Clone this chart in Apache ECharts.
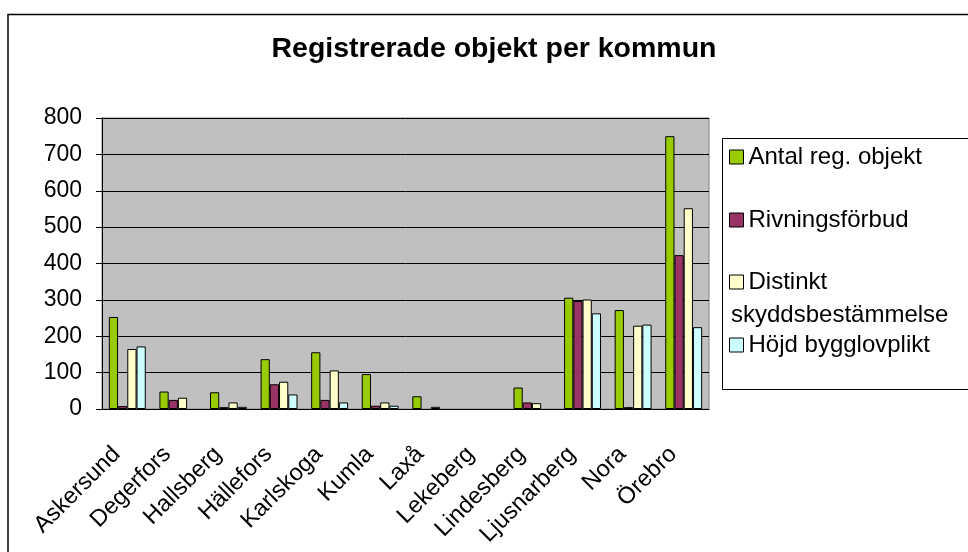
<!DOCTYPE html>
<html>
<head>
<meta charset="utf-8">
<script src="https://cdn.jsdelivr.net/npm/echarts@6/dist/echarts.min.js"></script>
<style>
html,body{margin:0;padding:0;background:#fff;}
#chart{width:968px;height:552px;}
</style>
</head>
<body>
<div id="chart"></div>
<script>
var categories = ['Askersund','Degerfors','Hallsberg','Hällefors','Karlskoga','Kumla','Laxå','Lekeberg','Lindesberg','Ljusnarberg','Nora','Örebro'];
var antal    = [253, 48, 46, 137, 156, 96, 35, 0, 59, 306, 272, 750];
var rivning  = [8, 25, 5, 68, 25, 9, 0, 0, 18, 297, 5, 423];
var distinkt = [165, 31, 18, 75, 106, 18, 6, 0, 16, 301, 229, 552];
var hojd     = [172, 0, 6, 40, 18, 9, 0, 0, 0, 263, 232, 225];
var seriesNames = ['Antal reg. objekt','Rivningsförbud','Distinkt','Höjd bygglovplikt'];
var yTicks = {min: 0, max: 800, interval: 100};

var FONT = '"Liberation Sans", Arial, sans-serif';
var colors = ['#99CC00','#993366','#FFFFCC','#CCFFFF'];
var legendTops = [145, 208, 270, 333];

var chart = echarts.init(document.getElementById('chart'), null, {renderer:'canvas'});

var legends = seriesNames.map(function(n, i){
  return {
    data: [n],
    orient: 'vertical',
    left: 729,
    top: legendTops[i],
    padding: 0,
    itemWidth: 14,
    itemHeight: 14,
    icon: 'rect',
    itemStyle: {borderColor: '#000', borderWidth: 1},
    textStyle: {fontFamily: FONT, fontSize: 24, color: '#000'},
    selectedMode: false
  };
});

var seriesData = [antal, rivning, distinkt, hojd];

var option = {
  backgroundColor: '#fff',
  animation: false,
  color: colors,
  title: {
    text: 'Registrerade objekt per kommun',
    left: 489,
    textAlign: 'center',
    top: 30,
    textStyle: {fontFamily: FONT, fontSize: 28.5, fontWeight: 'bold', color: '#000'}
  },
  legend: legends,
  grid: {
    left: 102, top: 118, right: 259, bottom: 143,
    show: true, backgroundColor: '#C0C0C0', borderColor: '#808080', borderWidth: 1
  },
  xAxis: {
    type: 'category',
    data: categories,
    axisLine: {lineStyle: {color: '#000', width: 1}},
    axisTick: {length: 7, lineStyle: {color: '#000'}},
    axisLabel: {
      rotate: 45, margin: 31, interval: 0,
      padding: [0, 15, 0, 0],
      fontFamily: FONT, fontSize: 23.5, color: '#000'
    }
  },
  yAxis: {
    type: 'value',
    min: yTicks.min, max: yTicks.max, interval: yTicks.interval,
    axisLine: {show: true, lineStyle: {color: '#000', width: 1}},
    axisTick: {show: true, length: 6, inside: false, lineStyle: {color: '#000'}},
    axisLabel: {margin: 20, fontFamily: FONT, fontSize: 23, color: '#000'},
    splitLine: {show: true, lineStyle: {color: '#000', width: 1}}
  },
  series: seriesData.map(function(d, i){
    return {
      name: seriesNames[i],
      type: 'bar',
      data: d.map(function(v){ return v === 0 ? '-' : v; }),
      barGap: '0%',
      barCategoryGap: '27%',
      itemStyle: {color: colors[i], borderColor: '#000', borderWidth: 1}
    };
  }),
  graphic: [
    {type:'rect', shape:{x:8, y:14.5, width:1100, height:700}, style:{fill:'none', stroke:'#000', lineWidth:1.5}, silent:true, z:-1},
    {type:'rect', shape:{x:722.5, y:138.5, width:400, height:251}, style:{fill:'none', stroke:'#000', lineWidth:1}, silent:true},
    {type:'text', left: 731, top: 303, style:{text:'skyddsbestämmelse', font: '24px ' + FONT, fill:'#000'}, silent:true}
  ]
};
chart.setOption(option);
</script>
</body>
</html>
